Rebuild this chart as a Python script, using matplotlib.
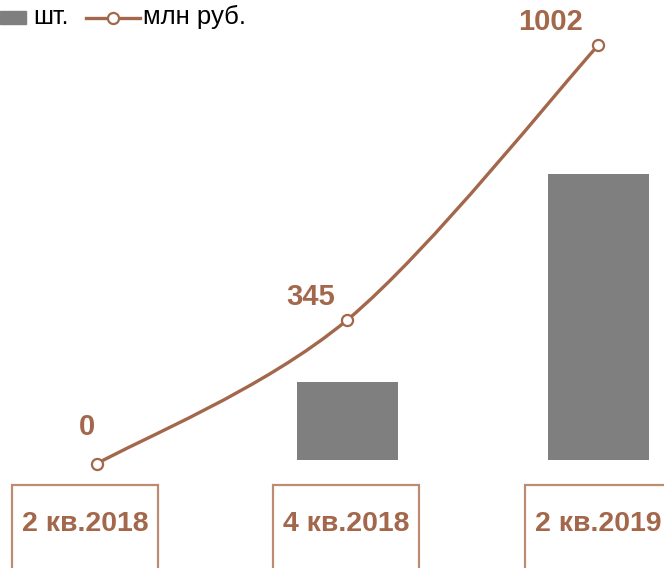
import matplotlib
matplotlib.use("Agg")
import matplotlib.pyplot as plt
from matplotlib.path import Path
from matplotlib.patches import PathPatch, Rectangle
from matplotlib.lines import Line2D

plt.rcParams['font.family'] = ['Liberation Sans', 'DejaVu Sans']

# data
categories = ["2 кв.2018", "4 кв.2018", "2 кв.2019"]
units = [0, 30, 110]          # шт.
money = [0, 345, 1002]        # млн руб.
money_labels = ["0", "345", "1002"]

BROWN = '#a3674b'
BOX = '#bd8a72'
GREY = '#7f7f7f'

W, H = 664, 568
fig = plt.figure(figsize=(W / 100, H / 100), dpi=100)
ax = fig.add_axes([0, 0, 1, 1])
ax2 = ax.twinx()

x = list(range(len(categories)))
ax.bar(x, units, width=0.40, color=GREY)
ax.set_xlim(-0.3845, 2.261)
ax.set_ylim(-41.54, 176.92)
ax2.set_ylim(-248.7, 1109.6)
for a in (ax, ax2):
    a.axis('off')

# smoothed line (Excel-like Catmull-Rom bezier through the points)
pts = list(zip(x, money))
verts = [pts[0]]
codes = [Path.MOVETO]
n = len(pts)
for i in range(n - 1):
    p_prev = pts[i - 1] if i > 0 else pts[i]
    p0, p1 = pts[i], pts[i + 1]
    p_next = pts[i + 2] if i + 2 < n else pts[i + 1]
    c1 = (p0[0] + (p1[0] - p_prev[0]) / 6, p0[1] + (p1[1] - p_prev[1]) / 6)
    c2 = (p1[0] - (p_next[0] - p0[0]) / 6, p1[1] - (p_next[1] - p0[1]) / 6)
    verts += [c1, c2, p1]
    codes += [Path.CURVE4] * 3
ax2.add_patch(PathPatch(Path(verts, codes), fill=False, edgecolor=BROWN,
                        lw=2.4, capstyle='round'))
ax2.plot(x, money, 'o', ms=8, mfc='white', mec=BROWN, mew=1.6, zorder=5)

label_offsets = [(-10, 37), (-37, 23), (-48, 23)]
for xi, v, lab, off in zip(x, money, money_labels, label_offsets):
    ax2.annotate(lab, (xi, v), xytext=off, textcoords='offset pixels',
                 ha='center', va='center', fontsize=21, fontweight='bold',
                 color=BROWN)

# category boxes at the bottom
box_centers = [85, 346, 598]
for cx, cat in zip(box_centers, categories):
    fig.patches.append(Rectangle(((cx - 73) / W, -0.05), 146 / W, 83 / H + 0.05,
                                 transform=fig.transFigure, fill=False,
                                 edgecolor=BOX, lw=1.6))
    fig.text(cx / W, 1 - 524 / H, cat, ha='center', va='center',
             fontsize=20.5, fontweight='bold', color=BROWN)

# legend
fig.patches.append(Rectangle((0, 1 - 24 / H), 26 / W, 13 / H,
                             transform=fig.transFigure, color=GREY))
fig.text(33 / W, 1 - 24 / H, "шт.", fontsize=18, va='baseline', color='black')
fig.lines.append(Line2D([86 / W, 140 / W], [1 - 17.5 / H] * 2,
                        transform=fig.transFigure, color=BROWN, lw=2.4))
fig.lines.append(Line2D([113 / W], [1 - 17.5 / H], transform=fig.transFigure,
                        marker='o', ms=8, mfc='white', mec=BROWN, mew=1.6))
fig.text(143 / W, 1 - 24 / H, "млн руб.", fontsize=18.5, va='baseline',
         color='black')

fig.savefig("out.png", dpi=100)
